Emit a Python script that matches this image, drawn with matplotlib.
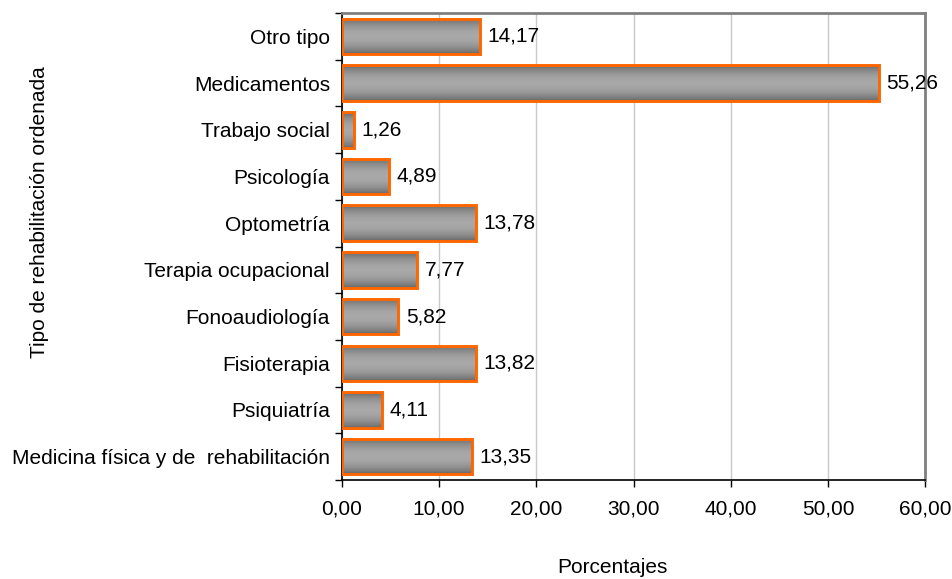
import numpy as np
import matplotlib.pyplot as plt

plt.rcParams['font.family'] = ['Liberation Sans', 'DejaVu Sans']

categories = ['Medicina física y de  rehabilitación', 'Psiquiatría', 'Fisioterapia',
              'Fonoaudiología', 'Terapia ocupacional', 'Optometría', 'Psicología',
              'Trabajo social', 'Medicamentos', 'Otro tipo']
values = [13.35, 4.11, 13.82, 5.82, 7.77, 13.78, 4.89, 1.26, 55.26, 14.17]
xticks = [0, 10, 20, 30, 40, 50, 60]

fig = plt.figure(figsize=(9.52, 5.79), dpi=100)
ax = fig.add_axes([0.359, 0.171, 0.613, 0.8065])

y = np.arange(len(categories))
bars = ax.barh(y, values, height=0.76, color='#909090', edgecolor='#ff6600',
               linewidth=2.1, zorder=3)

# vertical gray gradient inside each bar (dark edges, light middle)
t = np.linspace(0, 1, 64)
shade = 0.40 + 0.26 * np.sin(np.pi * t) ** 0.8
grad = np.stack([shade] * 3, axis=-1)[:, None, :]
for b in bars:
    x0, y0, w, h = b.get_x(), b.get_y(), b.get_width(), b.get_height()
    im = ax.imshow(grad, extent=[x0, x0 + w, y0, y0 + h], aspect='auto',
                   origin='lower', zorder=3.5, interpolation='bilinear')
    im.set_clip_path(b)
    b.set_facecolor('none')
    b.set_zorder(4)

for b, v in zip(bars, values):
    ax.text(b.get_width() + 0.75, b.get_y() + b.get_height() / 2,
            f'{v:.2f}'.replace('.', ','), va='center', ha='left', fontsize=15, zorder=5)

ax.set_xlim(0, 60)
ax.set_ylim(-0.5, len(categories) - 0.5)
ax.set_xticks(xticks)
ax.set_xticklabels([f'{v:.2f}'.replace('.', ',') for v in xticks], fontsize=15)
ax.set_yticks(np.arange(len(categories) + 1) - 0.5, minor=False)
ax.set_yticklabels([])
ax.set_yticks(y, minor=True)
ax.set_yticklabels(categories, minor=True, fontsize=15)
ax.tick_params(axis='y', which='minor', length=0, pad=8.5)
ax.tick_params(axis='y', which='major', length=5, direction='out', width=1)
ax.tick_params(axis='x', length=5, direction='out', width=1, pad=9)

ax.grid(axis='x', color='#c8c8c8', linewidth=1, zorder=0)
ax.set_axisbelow(True)
for s in ['top', 'right']:
    ax.spines[s].set_color('#808080')
    ax.spines[s].set_linewidth(2)
for s in ['left', 'bottom']:
    ax.spines[s].set_color('black')
    ax.spines[s].set_linewidth(1.2)

fig.text(0.643, 0.019, 'Porcentajes', ha='center', va='center', fontsize=15)
fig.text(0.042, 0.634, 'Tipo de rehabilitación ordenada', ha='center', va='center',
         rotation=90, fontsize=15)

fig.savefig('out.png', dpi=100)
